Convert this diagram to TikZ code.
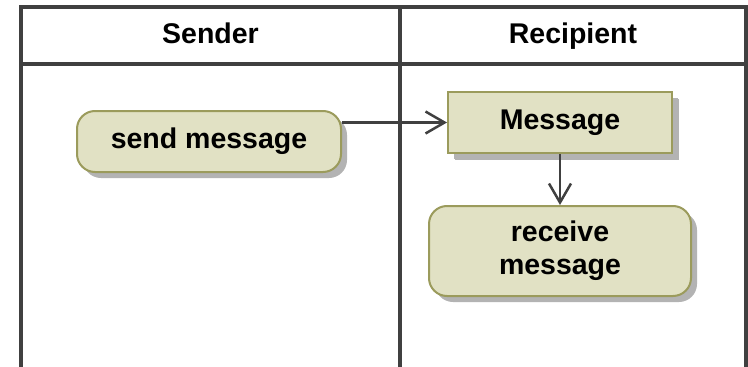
\documentclass[tikz,border=0pt]{standalone}
\usepackage{fontspec}
\setmainfont{Liberation Sans}
\usetikzlibrary{positioning,shadows,arrows.meta}
\definecolor{actfill}{HTML}{E1E1C4}
\definecolor{actline}{HTML}{9B9B5C}
\definecolor{laneline}{HTML}{404040}
\definecolor{shadowgray}{HTML}{B3B3B3}
\begin{document}
\begin{tikzpicture}[
  x=1pt, y=1pt,
  lane/.style={draw=laneline, line width=4pt, line join=miter},
  title/.style={anchor=base, font=\bfseries\fontsize{28.5pt}{34pt}\selectfont},
  action/.style={rectangle, rounded corners=18pt, draw=actline, fill=actfill, line width=2pt,
    align=center, font=\bfseries\fontsize{28.5pt}{33pt}\selectfont,
    drop shadow={shadow xshift=6pt, shadow yshift=-6pt, fill=shadowgray, opacity=1}},
  object/.style={action, rounded corners=0pt,
    drop shadow={shadow xshift=7pt, shadow yshift=-7pt, fill=shadowgray, opacity=1}},
  flow/.style={draw=laneline, line width=2.5pt, -{Straight Barb[length=19pt,width=22pt]}},
  node distance=51pt
]
\useasboundingbox (0,0) rectangle (748,-367);

% swimlanes
\draw[lane] (21,-367) -- (21,-7) -- (746,-7) -- (746,-367);
\draw[lane] (21,-64) -- (746,-64);
\draw[lane] (400,-7) -- (400,-367);
\node[title] (sender) at (210.5,-43.3) {Sender};
\node[title] (recipient) at (573,-43.3) {Recipient};

\node[action, minimum width=264pt, minimum height=61pt] (send) at (209,-141.5) {send message};
\node[object, minimum width=224pt, minimum height=61pt] (msg) at (560,-122.5) {Message};
\node[action, minimum width=262pt, minimum height=90pt, below=of msg] (receive) {receive\\message};

\draw[flow] (send.east |- msg.west) -- (msg.west);
\draw[flow] (msg) -- (receive);
\end{tikzpicture}
\end{document}
